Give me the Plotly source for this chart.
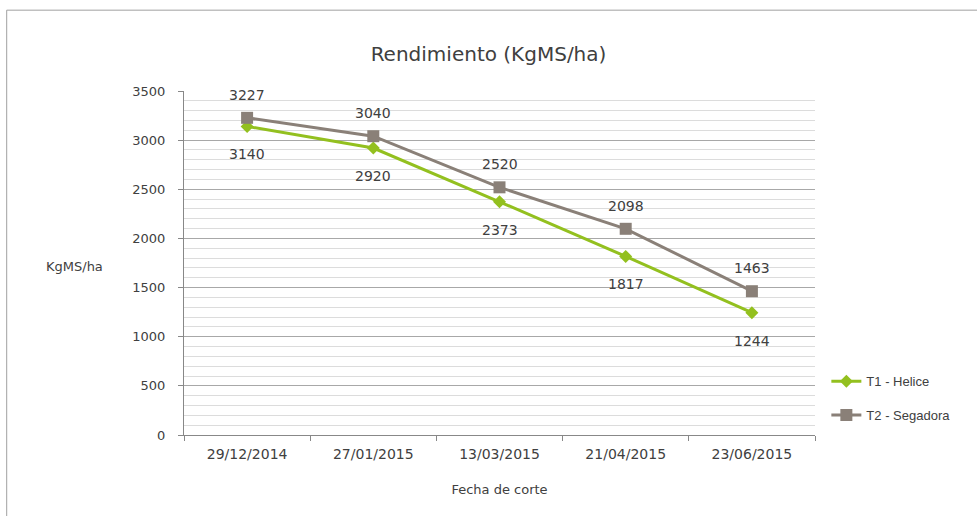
import plotly.graph_objects as go

fechas = ["29/12/2014", "27/01/2015", "13/03/2015", "21/04/2015", "23/06/2015"]
t1_helice = [3140, 2920, 2373, 1817, 1244]
t2_segadora = [3227, 3040, 2520, 2098, 1463]

green = "#93C01F"
grey = "#8A8078"
font = "DejaVu Sans"

fig = go.Figure()
fig.add_trace(go.Scatter(x=fechas, y=t1_helice, name="T1 - Helice", mode="lines+markers",
                         line=dict(color=green, width=3), marker=dict(symbol="diamond", size=10, color=green),
                         legendgroup="a"))
fig.add_trace(go.Scatter(x=fechas, y=t2_segadora, name="T2 - Segadora", mode="lines+markers",
                         line=dict(color=grey, width=3), marker=dict(symbol="square", size=12, color=grey),
                         legendgroup="b"))

for xv, yv in zip(fechas, t2_segadora):
    fig.add_annotation(x=xv, y=yv, text=str(yv), showarrow=False, yshift=23,
                       font=dict(size=14, color="#404040", family=font))
for xv, yv in zip(fechas, t1_helice):
    fig.add_annotation(x=xv, y=yv, text=str(yv), showarrow=False, yshift=-28,
                       font=dict(size=14, color="#404040", family=font))

fig.add_annotation(text="KgMS/ha", xref="paper", yref="paper", x=-0.173, y=0.49,
                   showarrow=False, xanchor="center", font=dict(size=13, color="#404040", family=font))

fig.add_shape(type="rect", xref="paper", yref="paper", x0=-0.281, x1=1.27, y0=-0.3, y1=1.235,
              line=dict(color="#A0A0A0", width=1), fillcolor="rgba(0,0,0,0)", layer="below")

fig.update_layout(
    width=977, height=516,
    margin=dict(l=184, r=162, t=91, b=81),
    paper_bgcolor="white", plot_bgcolor="white",
    font=dict(family=font, size=13, color="#404040"),
    title=dict(text="Rendimiento (KgMS/ha)", x=0.5, xref="container", y=0.895, yanchor="middle",
               font=dict(size=20, color="#404040", family=font)),
    legend=dict(x=1.018, y=0.2, xanchor="left", yanchor="top",
                font=dict(size=13, family="Liberation Sans"),
                tracegroupgap=14, bgcolor="rgba(0,0,0,0)", borderwidth=0),
    showlegend=True,
)
fig.update_xaxes(range=[-0.5, 4.5], tickson="boundaries", ticks="outside", ticklen=5, tickcolor="#888888",
                 showline=True, linecolor="#888888", showgrid=False, ticklabelstandoff=6,
                 title=dict(text="Fecha de corte", standoff=24, font=dict(size=13)),
                 tickfont=dict(size=14))
fig.update_yaxes(range=[0, 3500], dtick=500, ticks="outside", ticklen=5, tickcolor="#888888",
                 showline=True, linecolor="#888888", gridcolor="#A8A8A8", gridwidth=1,
                 minor=dict(dtick=100, showgrid=True, gridcolor="#DCDCDC", gridwidth=1),
                 zeroline=False, tickfont=dict(size=13), ticklabelstandoff=10)

fig.write_html("out.html", config={"displayModeBar": False},
               post_script="document.body.style.margin='0';")
